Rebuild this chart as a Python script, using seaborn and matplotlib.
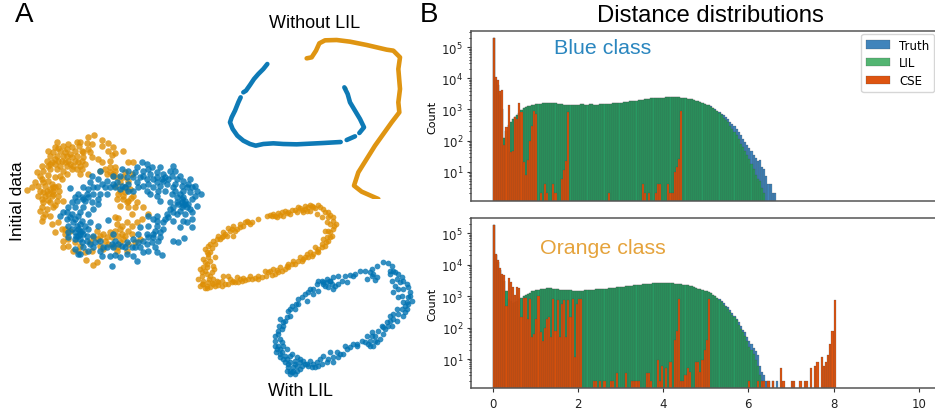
import numpy as np
import matplotlib
matplotlib.use("Agg")
import matplotlib.pyplot as plt
import seaborn as sns

# Scatter points (units: 1/3 pixel inside each region)
init_orange = [(283,47),(265,53),(240,68),(305,62),(325,72),(262,72),(275,75),(305,80),(237,82),(340,85),(205,75),(190,80),
    (165,83),(175,88),(145,95),(160,100),(180,95),(200,90),(215,85),(225,95),(245,95),(265,90),(325,95),(370,96),(345,102),
    (335,108),(170,110),(190,110),(210,105),(230,110),(250,115),(275,115),(295,120),(165,120),(185,125),(205,125),(225,125),
    (245,125),(305,130),(385,128),(400,128),(330,125),(127,140),(145,140),(165,135),(180,140),(200,140),(220,140),(240,140),
    (110,160),(130,155),(150,150),(170,150),(190,155),(215,150),(245,150),(265,165),(330,145),(345,155),(300,155),(320,165),
    (340,165),(125,180),(145,185),(165,175),(185,180),(115,200),(135,200),(155,195),(175,200),(95,205),(82,213),(120,215),
    (140,215),(160,215),(178,215),(115,230),(135,230),(155,232),(175,232),(130,250),(150,250),(170,245),(190,245),(125,265),
    (140,270),(160,265),(135,285),(125,305),(130,295),(155,315),(175,310),(185,330),(165,340),(195,345),(210,335),(190,365),
    (190,385),(205,360),(225,370),(220,395),(240,380),(258,423),(290,430),(280,437),(350,175),(370,175),(385,185),(345,200),
    (360,215),(375,220),(400,230),(350,240),(370,240),(385,245),(405,265),(430,265),(360,262),(385,265),(395,285),(345,295),
    (355,297),(445,285),(425,300),(350,315),(380,310),(410,310),(360,330),(385,335),(290,335),(310,345),(330,340),(295,360),
    (320,355),(355,350),(370,360),(395,345),(360,370),(385,375),(405,370),(300,380),(325,375),(420,360),(270,370),(280,355),
    (310,390),(350,395),(380,395),(340,170),(360,190),(150,210),(128,218),(145,168),(160,225),(370,230),(392,238),(365,345),
    (170,70),(150,110),(195,100),(215,115),(235,130),(255,135),(155,130),(175,125),(195,130),(210,135),(230,150),(140,125),
    (120,170),(105,190),(130,190),(160,205),(145,225),(165,205),(125,240),(145,242),(165,258),(120,275),(150,290),(195,330),
    (205,380),(235,395),(255,400),(275,395),(300,350),(315,365),(335,355),(345,335),(365,320),(395,320),(375,350),(340,380),
    (355,385),(375,205),(390,210),(355,225),(380,250),(410,250),(345,145),(330,160),(315,150),(395,165),(375,160),(180,170),
    (200,165),(150,135),(270,100),(250,100),(230,70),(200,110),(240,165)]
init_blue = [(425,130),(440,135),(410,145),(455,145),(480,145),(518,140),(365,150),(385,155),(405,160),(430,155),(450,165),
    (470,160),(490,165),(510,155),(525,155),(300,155),(275,170),(340,170),(360,170),(380,175),(400,175),(420,175),(440,180),
    (460,180),(485,180),(505,180),(530,180),(550,185),(570,180),(295,180),(320,185),(350,190),(365,200),(385,195),(410,190),
    (430,200),(460,205),(480,200),(500,195),(525,195),(545,200),(565,195),(585,200),(270,190),(250,205),(290,205),(315,205),
    (360,210),(385,215),(210,207),(440,215),(470,230),(525,215),(550,215),(570,220),(603,225),(585,230),(235,225),(260,225),
    (280,225),(300,225),(320,225),(530,235),(550,235),(575,240),(230,245),(255,245),(275,250),(295,255),(480,245),(510,250),
    (545,250),(565,255),(590,260),(205,265),(225,265),(250,265),(280,270),(520,265),(545,265),(570,270),(190,280),(215,285),
    (240,280),(500,285),(530,285),(555,285),(180,290),(200,300),(225,300),(245,305),(270,310),(470,290),(445,290),(520,305),
    (550,305),(575,300),(205,320),(230,320),(325,303),(470,305),(490,310),(420,325),(445,320),(540,325),(575,325),(205,340),
    (225,340),(245,335),(265,330),(295,320),(465,335),(490,330),(415,345),(440,345),(205,355),(235,350),(260,350),(280,350),
    (340,345),(460,355),(480,355),(520,365),(535,368),(552,358),(245,370),(270,375),(345,365),(365,380),(400,360),(430,365),
    (455,370),(475,365),(225,390),(250,385),(280,385),(310,385),(340,385),(375,385),(405,385),(430,400),(445,395),(465,385),
    (235,405),(265,395),(300,395),(330,410),(345,408),(380,405),(400,410),(410,425),(485,408),(305,410),(240,405),(335,440),
    (360,415),(548,258),(555,245),(240,335),(228,350),(240,345),(250,240),(265,235),
    (545,240),(555,255),(535,255),(560,265),(540,275),(520,280),(510,270),(530,250),(540,225),(560,205),(575,205),(520,205),
    (515,225),(495,215),(475,215),(450,225),(445,195),(470,190),(490,185),(415,205),(400,215),(375,205),(345,205),(330,205),
    (305,195),(280,205),(265,210),(245,235),(225,235),(215,250),(200,280),(210,295),(235,290),(220,310),(240,315),(255,320),
    (215,330),(235,330),(250,345),(225,360),(240,360),(260,365),(285,370),(300,365),(320,385),(335,375),(355,375),(380,370),
    (395,385),(415,370),(440,375),(460,345),(445,355),(470,320),(480,340),(505,295),(495,300),(460,300),(420,385),(470,400),
    (265,285),(295,240),(340,195),(430,170),(445,150),(470,175),(495,175),(515,170),(540,170),(590,215),(575,280),(560,310)]

ring_orange = [(30,290),(45,297),(25,270),(35,250),(30,240),(45,220),(55,205),(45,180),(60,165),(70,155),(85,140),(100,130),
    (115,118),(130,110),(150,105),(170,95),(185,100),(205,90),(232,80),(250,75),(265,72),(285,65),(305,62),(325,55),(345,50),
    (360,48),(385,48),(400,60),(415,70),(430,85),(438,105),(430,120),(425,140),(415,155),(405,170),(385,180),(370,195),
    (355,205),(335,215),(315,225),(295,235),(275,245),(255,255),(235,250),(215,265),(195,268),(175,270),(155,275),(135,280),
    (115,285),(95,290),(75,290),(60,295),(70,270),(65,250),(70,230),(75,205),(60,190),(90,150),(110,140),(130,140),(140,120),
    (160,110),(260,85),(280,80),(300,75),(320,70),(340,70),(360,65),(380,75),(395,85),(410,100),(405,125),(410,145),(395,165),
    (375,175),(350,195),(330,205),(310,215),(295,225),(270,235),(250,240),(225,245),(100,262),(115,260),(140,265),(160,268),
    (180,262),(205,262),(55,280),(80,275),(60,260),(50,235),(60,215),(95,275),(120,270),(40,285),(50,290),(345,60),(335,62),
    (355,55),(370,55),(415,85),(420,105),(420,130),(400,150),(385,190),(360,190),(340,210),(290,230),(265,250),(245,258),
    (130,275),(150,270),(85,280),(55,170),(105,135),(125,120),(175,100),(240,78),(270,78),(290,72),
    (35,262),(40,275),(50,255),(40,235),(55,195),(50,188),(65,178),(75,165),(80,150),(95,145),(100,140),(120,125),(135,125),
    (150,115),(165,100),(180,105),(245,82),(255,80),(275,70),(295,68),(315,62),(330,58),(350,65),(365,50),(375,58),(390,55),
    (405,68),(420,78),(428,95),(432,112),(415,125),(420,145),(408,160),(395,175),(380,185),(365,200),(345,205),(325,215),
    (305,225),(285,240),(262,243),(240,245),(228,260),(205,270),(185,270),(165,272),(145,278),(125,280),(105,285),(85,288),
    (70,285),(58,270),(45,245),(40,210),(52,225),(35,285),(50,298),(72,240),(65,282)]
ring_blue = [(580,218),(595,222),(605,230),(560,232),(545,240),(525,245),(510,245),(495,255),(480,258),(465,262),(445,262),
    (430,265),(410,270),(395,275),(380,285),(360,300),(345,315),(325,330),(305,350),(295,365),(300,380),(270,390),(280,410),
    (265,425),(255,440),(270,450),(255,470),(258,490),(270,505),(285,520),(295,535),(305,550),(320,545),(335,530),(355,530),
    (375,535),(395,525),(415,510),(430,520),(445,505),(460,495),(480,475),(500,465),(515,455),(535,465),(550,470),(545,440),
    (570,450),(585,420),(605,410),(620,395),(640,380),(650,360),(665,335),(660,310),(650,285),(635,265),(615,250),(600,255),
    (620,270),(615,290),(610,310),(625,325),(640,340),(620,360),(600,380),(575,410),(565,425),(590,400),(545,430),(530,440),
    (545,262),(555,272),(530,270),(470,280),(445,285),(430,300),(405,290),(385,305),(370,315),(350,335),(325,345),(315,360),
    (285,395),(275,420),(265,435),(280,470),(290,480),(305,495),(320,505),(270,480),(285,500),(300,520),(315,525),(340,515),
    (360,515),(380,520),(400,500),(420,490),(440,490),(465,470),(490,465),(300,545),(290,510),(310,535),(330,520),(275,490),
    (640,300),(655,325),(630,280),(645,350),(560,460),(540,455),(410,280),(420,275),(400,285),(350,525),(370,525),(390,510),
    (600,245),(610,245),(625,255),(640,275),(655,295),(660,320),(650,340),(635,360),(625,375),(610,390),(595,410),(580,435),
    (555,455),(540,470),(525,460),(500,470),(470,480),(450,495),(430,505),(410,520),(385,530),(365,535),(345,525),(330,510),
    (315,515),(300,500),(280,510),(270,495),(265,470),(260,480),(275,460),(295,525),(310,545),(320,530),(330,540),(290,545),
    (300,555),(315,555),(255,455),(268,410),(278,400),(290,385),(300,360),(318,345),(335,325),(355,310),(370,300),(385,275),
    (400,280),(420,275),(435,290),(425,285),(455,275),(490,262),(540,250),(560,265),(550,255),(605,275),(625,300),(635,320),
    (655,345),(645,370),(610,375),(580,415),(555,440),(600,395),(415,295)]

# Curves of the "Without LIL" embedding, one list per unbroken stretch
line_blue_1 = [(172,165),(160,180),(145,195),(132,210),(120,228),(108,245),(100,250)]
line_blue_2 = [(92,265),(85,280),(75,305),(65,325),(60,340),(68,360),(82,380),(100,395),(120,405),(137,410),(160,405),
    (190,403),(220,405),(260,406),(300,404),(340,402),(392,399)]
line_blue_3 = [(410,393),(435,382)]
line_blue_4 = [(448,372),(462,355),(450,330),(435,305),(420,280),(413,255),(403,235)]
line_orange = [(290,148),(305,145),(318,125),(328,103),(345,94),(380,93),(420,98),(470,108),(530,122),(550,125),(570,145),
    (565,180),(570,240),(565,280),(568,310),(545,340),(520,375),(495,410),(470,450),(445,490),(432,530),(455,548),(505,570)]

# Histogram counts per 0.05 wide bin, blue class
truth_top = [200000,9000,6000,3000,1000,120,200,320,400,480,560,650,760,960,1100,1180,1240,1300,1340,1400,1460,1500,1530,1550,
    1580,1600,1620,1600,1570,1550,1520,1480,1450,1430,1400,1420,1410,1400,1380,1370,1420,1450,1440,1400,1420,1440,1460,1420,
    1390,1400,1450,1480,1500,1520,1500,1530,1570,1600,1620,1600,1650,1700,1720,1780,1820,1860,1880,1910,1960,2010,2060,2120,
    2170,2200,2260,2300,2320,2340,2350,2380,2400,2430,2440,2420,2450,2480,2460,2420,2380,2350,2280,2230,2160,2100,2010,1900,
    1820,1720,1620,1520,1420,1350,1250,1120,1000,920,830,720,640,560,480,400,340,290,240,190,145,115,90,70,58,45,35,28,22,24,
    14,12,7,4,4,2,2]
lil_top = [200000,9000,6000,3000,1000,120,200,320,400,480,560,650,760,960,1100,1180,1240,1300,1340,1400,1460,1500,1530,1550,
    1580,1600,1620,1600,1570,1550,1520,1480,1450,1430,1400,1420,1410,1400,1380,1370,1420,1450,1440,1400,1420,1440,1460,1420,
    1390,1400,1450,1480,1500,1520,1500,1530,1570,1600,1620,1600,1650,1700,1720,1780,1820,1860,1880,1910,1960,2010,2060,2120,
    2170,2200,2260,2300,2320,2340,2350,2380,2400,2430,2440,2420,2450,2480,2460,2420,2380,2350,2280,2230,2160,2100,2010,1900,
    1820,1720,1620,1520,1420,1340,1230,1090,960,860,770,640,540,460,380,300,240,190,150,110,80,60,45,35,25,18,12,8,6,5,3,2]
cse_top_bin = list(range(21)) + [22,24,25,28,29,32,33,34,35,54,70,71,73,76,77,78,82,83,84,85,86,87,88]
cse_top = [200000,11000,8600,3800,4100,70,270,1400,44,46,570,500,1600,800,20,8,24,100,300,900,700,
    2,4,2,4,2,6,11,22,820,2,4,2,2,2,4,4,4,2,2,10,14,25,900]

# Histogram counts per 0.05 wide bin, orange class
truth_bot = [180000,20000,12000,7000,4500,3000,1500,800,700,600,650,700,800,900,1000,1100,1200,1300,1440,1500,1560,1620,1670,
    1700,1750,1780,1800,1780,1750,1700,1650,1620,1600,1580,1560,1540,1520,1510,1500,1490,1480,1480,1500,1530,1550,1570,1600,
    1610,1630,1650,1660,1680,1700,1720,1760,1800,1840,1860,1900,1930,1960,2000,2040,2080,2120,2160,2200,2230,2270,2320,2370,
    2400,2430,2470,2500,2530,2560,2590,2610,2630,2650,2660,2640,2620,2560,2520,2500,2450,2400,2340,2280,2200,2120,2050,1950,
    1850,1750,1680,1600,1500,1420,1340,1230,1110,1000,900,820,700,590,500,445,370,300,240,190,150,110,85,70,50,38,30,23,18,
    13,6,4,3,2,2,0,2,0,2]
lil_bot = [180000,20000,12000,7000,4500,3000,1500,800,700,600,650,700,800,900,1000,1100,1200,1300,1440,1500,1560,1620,1670,
    1700,1750,1780,1800,1780,1750,1700,1650,1620,1600,1580,1560,1540,1520,1510,1500,1490,1480,1480,1500,1530,1550,1570,1600,
    1610,1630,1650,1660,1680,1700,1720,1760,1800,1840,1860,1900,1930,1960,2000,2040,2080,2120,2160,2200,2230,2270,2320,2370,
    2400,2430,2470,2500,2530,2560,2590,2610,2630,2650,2660,2640,2620,2560,2520,2500,2450,2400,2340,2280,2200,2120,2050,1950,
    1850,1750,1680,1600,1500,1420,1340,1230,1110,1000,880,780,660,540,450,400,320,260,210,170,120,90,70,55,38,25,20,14,9,6,3,2]
cse_bot_bin = list(range(42)) + [47,48,50,52,55,56,58,62,65,66,67,68,72,73,74,77,78,79,81,83,85,86,87,88,89,90,91,92,95,96,
    97,98,99,100,101,120,124,126,127,129,131,135,136,140,141,144,146,147,149,151,152,154,155,156,157,158,159,160]
cse_bot = [180000,22000,14000,8000,5200,4600,500,3800,2800,1900,1050,1900,1800,210,860,860,190,820,50,63,190,980,70,38,100,
    190,215,50,820,80,730,50,570,730,50,770,215,820,12,570,820,820,
    2,2,2,2,2,2,3.7,3.7,2,2,2,2,3.7,3.7,2,9,2,6,5,8,40,80,800,2,2,3,5,4,8,8,4,9,20,40,800,
    2,2,2,2,2,2,5,2,2,2,2,2,2,5,6,8,12,6,8,13,30,80,780]

bin_width = 0.05
hist_edges = np.arange(0, 10.05, bin_width).tolist()
tick_values = [0, 2, 4, 6, 8, 10]
colors = sns.color_palette("colorblind")
blue, orange_pt = colors[0], colors[1]
hist_blue, hist_green, hist_red = "#1f6fb0", "#22a04b", "#dd4e08"

plt.rcParams["font.family"] = ["Liberation Sans", "DejaVu Sans"]
W, H = 935, 410
fig = plt.figure(figsize=(W / 100, H / 100), dpi=100)


def px_axes(x0, y0, x1, y1):
    # axes placed by its pixel box, y counted from the top of the picture
    return fig.add_axes([x0 / W, 1 - y1 / H, (x1 - x0) / W, (y1 - y0) / H])


def region_axes(x0, y0, w, h):
    ax = px_axes(x0, y0, x0 + w, y0 + h)
    ax.set_xlim(0, w * 3)
    ax.set_ylim(h * 3, 0)
    ax.axis("off")
    ax.patch.set_alpha(0)
    return ax


def dots(ax, points, color, size):
    xs, ys = zip(*points)
    sns.scatterplot(x=list(xs), y=list(ys), ax=ax, color=color, s=size, alpha=0.8, linewidth=0)


# Panel A
ax_init = region_axes(0, 120, 210, 170)
dots(ax_init, init_orange, orange_pt, 22)
dots(ax_init, init_blue, blue, 22)

ax_ring = region_axes(190, 190, 230, 220)
dots(ax_ring, ring_orange, orange_pt, 17)
dots(ax_ring, ring_blue, blue, 17)

ax_line = region_axes(210, 10, 210, 190)
for seg in [line_blue_1, line_blue_2, line_blue_3, line_blue_4]:
    xs, ys = zip(*seg)
    sns.lineplot(x=list(xs), y=list(ys), ax=ax_line, color=blue, sort=False, estimator=None, linewidth=3.3,
                 alpha=0.95, solid_capstyle="round")
xs, ys = zip(*line_orange)
sns.lineplot(x=list(xs), y=list(ys), ax=ax_line, color=orange_pt, sort=False, estimator=None, linewidth=3.3,
             alpha=0.95, solid_capstyle="round")
sns.scatterplot(x=[405], y=[237], ax=ax_line, color="#8f8f30", s=8, linewidth=0)


# Panel B
def hist(ax, bins, counts, color, label, alpha=0.75, lw=0.15):
    centers = [(b + 0.5) * bin_width for b in bins]
    sns.histplot(x=centers, weights=counts, bins=hist_edges, ax=ax, color=color, label=label, alpha=alpha,
                 linewidth=lw, edgecolor="#444444")


ax_top = px_axes(471.4, 32, 940, 202)
ax_bot = px_axes(471.4, 219, 940, 389.3)
rows = [(ax_top, truth_top, lil_top, cse_top_bin, cse_top, (1.14, 3.3e5)),
        (ax_bot, truth_bot, lil_bot, cse_bot_bin, cse_bot, (1.17, 3.07e5))]
for ax, truth, lil, cse_bin, cse, ylim in rows:
    ax.set_yscale("log")
    hist(ax, range(len(truth)), truth, hist_blue, "Truth", alpha=0.85)
    hist(ax, range(len(lil)), lil, hist_green, "LIL", alpha=0.78)
    hist(ax, cse_bin, cse, hist_red, "CSE", alpha=0.97)
    ax.set_xlim(-0.5, 10.5)
    ax.set_ylim(*ylim)
    ax.set_ylabel("Count", fontsize=8, family="DejaVu Sans", labelpad=3)
    ax.set_xlabel("")
    ax.set_xticks(tick_values)
    ax.tick_params(labelsize=8.5, length=3, pad=3, color="#333333", labelcolor="#222222")
    ax.tick_params(which="minor", length=1.5)
    for label in ax.get_xticklabels() + ax.get_yticklabels():
        label.set_family("DejaVu Sans")
    for spine in ax.spines.values():
        spine.set_color("#555555")
        spine.set_linewidth(1.1)
ax_top.tick_params(axis="x", bottom=False, labelbottom=False)
ax_top.legend(loc="upper right", bbox_to_anchor=(934 / W, 1 - 35 / H), bbox_transform=fig.transFigure,
              borderaxespad=0, labelspacing=0.4, prop={"family": "DejaVu Sans", "size": 8.5})


def label(px, py, text, size, color="black", **kw):
    fig.text(px / W, 1 - py / H, text, fontsize=size, color=color, va="center", **kw)


label(15, 15, "A", 20)
label(420, 15, "B", 20)
label(597, 16, "Distance distributions", 17.2)
label(269, 23, "Without LIL", 13)
label(268, 392, "With LIL", 12.8)
label(18, 201, "Initial data", 12.6, rotation=90, ha="center")
label(554, 48.5, "Blue class", 15.4, color="#2a86bf")
label(540, 249, "Orange class", 15.4, color="#e5a33c")

fig.savefig("out.png", dpi=100)
